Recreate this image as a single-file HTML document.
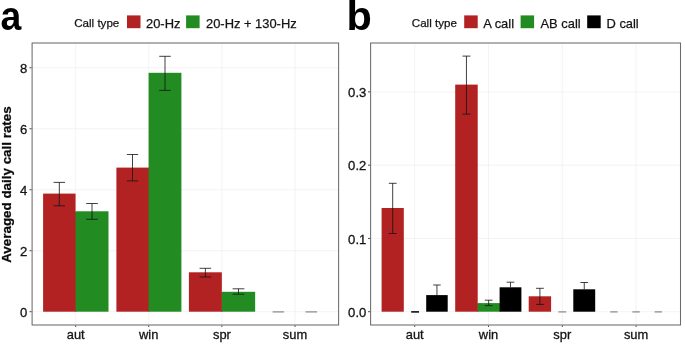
<!DOCTYPE html>
<html><head><meta charset="utf-8"><title>chart</title>
<style>
html,body{margin:0;padding:0;background:#fff;}
svg{display:block;will-change:transform;}
text{font-family:"Liberation Sans",sans-serif;fill:#141414;}
.ax{font-size:13.1px;stroke:#141414;stroke-width:0.3px;}
.axx{font-size:12.9px;}
.lt{font-size:11.6px;stroke:#141414;stroke-width:0.25px;}
.ll{font-size:12.9px;stroke:#141414;stroke-width:0.25px;}
.yt{font-size:13.4px;font-weight:bold;fill:#0a0a0a;stroke:#0a0a0a;stroke-width:0.25px;}
.big{font-size:41.5px;font-weight:bold;fill:#000;}
</style></head><body>
<svg width="685" height="345" viewBox="0 0 685 345">
<rect width="685" height="345" fill="#fff"/>
<rect x="32.1" y="43" width="306.5" height="282.0" fill="#fff"/>
<line x1="32.1" x2="338.6" y1="311.70" y2="311.70" stroke="#f0f0f0" stroke-width="0.8"/>
<line x1="32.1" x2="338.6" y1="250.72" y2="250.72" stroke="#f0f0f0" stroke-width="0.8"/>
<line x1="32.1" x2="338.6" y1="189.74" y2="189.74" stroke="#f0f0f0" stroke-width="0.8"/>
<line x1="32.1" x2="338.6" y1="128.76" y2="128.76" stroke="#f0f0f0" stroke-width="0.8"/>
<line x1="32.1" x2="338.6" y1="67.78" y2="67.78" stroke="#f0f0f0" stroke-width="0.8"/>
<line x1="75.70" x2="75.70" y1="43" y2="325.0" stroke="#f0f0f0" stroke-width="0.8"/>
<line x1="148.70" x2="148.70" y1="43" y2="325.0" stroke="#f0f0f0" stroke-width="0.8"/>
<line x1="221.90" x2="221.90" y1="43" y2="325.0" stroke="#f0f0f0" stroke-width="0.8"/>
<line x1="295.00" x2="295.00" y1="43" y2="325.0" stroke="#f0f0f0" stroke-width="0.8"/>
<rect x="43.10" y="193.60" width="32.45" height="118.10" fill="#B22222"/>
<rect x="75.05" y="211.80" width="1.30" height="99.90" fill="#B22222"/>
<rect x="75.55" y="211.30" width="32.95" height="100.40" fill="#228B22"/>
<rect x="116.40" y="167.60" width="33.00" height="144.10" fill="#B22222"/>
<rect x="148.60" y="72.80" width="32.80" height="238.90" fill="#228B22"/>
<rect x="188.90" y="272.30" width="32.95" height="39.40" fill="#B22222"/>
<rect x="221.35" y="292.30" width="1.30" height="19.40" fill="#B22222"/>
<rect x="221.85" y="291.80" width="33.30" height="19.90" fill="#228B22"/>
<path d="M53.61 182.40H65.04M53.61 205.80H65.04M59.33 182.40V205.80" stroke="#161616" stroke-width="0.82" fill="none"/>
<path d="M86.23 203.50H97.82M86.23 219.30H97.82M92.03 203.50V219.30" stroke="#161616" stroke-width="0.82" fill="none"/>
<path d="M126.83 154.50H138.17M126.83 180.90H138.17M132.50 154.50V180.90" stroke="#161616" stroke-width="0.82" fill="none"/>
<path d="M159.23 56.30H170.77M159.23 90.40H170.77M165.00 56.30V90.40" stroke="#161616" stroke-width="0.82" fill="none"/>
<path d="M199.58 268.30H211.17M199.58 277.00H211.17M205.38 268.30V277.00" stroke="#161616" stroke-width="0.82" fill="none"/>
<path d="M232.64 288.80H244.36M232.64 294.20H244.36M238.50 288.80V294.20" stroke="#161616" stroke-width="0.82" fill="none"/>
<line x1="272.60" x2="284.10" y1="311.90" y2="311.90" stroke="#828282" stroke-width="1.15"/>
<line x1="305.50" x2="317.10" y1="311.90" y2="311.90" stroke="#828282" stroke-width="1.15"/>
<rect x="32.1" y="43" width="306.5" height="282.0" fill="none" stroke="#6c6c6c" stroke-width="1.05"/>
<line x1="29.50" x2="31.60" y1="311.70" y2="311.70" stroke="#383838" stroke-width="0.9"/>
<line x1="29.50" x2="31.60" y1="250.72" y2="250.72" stroke="#383838" stroke-width="0.9"/>
<line x1="29.50" x2="31.60" y1="189.74" y2="189.74" stroke="#383838" stroke-width="0.9"/>
<line x1="29.50" x2="31.60" y1="128.76" y2="128.76" stroke="#383838" stroke-width="0.9"/>
<line x1="29.50" x2="31.60" y1="67.78" y2="67.78" stroke="#383838" stroke-width="0.9"/>
<line x1="75.70" x2="75.70" y1="325.5" y2="327.0" stroke="#383838" stroke-width="0.9"/>
<line x1="148.70" x2="148.70" y1="325.5" y2="327.0" stroke="#383838" stroke-width="0.9"/>
<line x1="221.90" x2="221.90" y1="325.5" y2="327.0" stroke="#383838" stroke-width="0.9"/>
<line x1="295.00" x2="295.00" y1="325.5" y2="327.0" stroke="#383838" stroke-width="0.9"/>
<text x="27.3" y="317.00" text-anchor="end" class="ax">0</text>
<text x="27.3" y="256.02" text-anchor="end" class="ax">2</text>
<text x="27.3" y="195.04" text-anchor="end" class="ax">4</text>
<text x="27.3" y="134.06" text-anchor="end" class="ax">6</text>
<text x="27.3" y="73.08" text-anchor="end" class="ax">8</text>
<text x="75.70" y="338.7" text-anchor="middle" class="ax axx">aut</text>
<text x="148.70" y="338.7" text-anchor="middle" class="ax axx">win</text>
<text x="221.90" y="338.7" text-anchor="middle" class="ax axx">spr</text>
<text x="295.00" y="338.7" text-anchor="middle" class="ax axx">sum</text>
<rect x="370.6" y="43" width="309.9" height="282.0" fill="#fff"/>
<line x1="370.6" x2="680.5" y1="311.70" y2="311.70" stroke="#f0f0f0" stroke-width="0.8"/>
<line x1="370.6" x2="680.5" y1="238.43" y2="238.43" stroke="#f0f0f0" stroke-width="0.8"/>
<line x1="370.6" x2="680.5" y1="165.16" y2="165.16" stroke="#f0f0f0" stroke-width="0.8"/>
<line x1="370.6" x2="680.5" y1="91.89" y2="91.89" stroke="#f0f0f0" stroke-width="0.8"/>
<line x1="414.70" x2="414.70" y1="43" y2="325.0" stroke="#f0f0f0" stroke-width="0.8"/>
<line x1="488.50" x2="488.50" y1="43" y2="325.0" stroke="#f0f0f0" stroke-width="0.8"/>
<line x1="562.30" x2="562.30" y1="43" y2="325.0" stroke="#f0f0f0" stroke-width="0.8"/>
<line x1="636.10" x2="636.10" y1="43" y2="325.0" stroke="#f0f0f0" stroke-width="0.8"/>
<rect x="381.60" y="208.00" width="22.20" height="103.70" fill="#B22222"/>
<rect x="426.20" y="295.10" width="21.50" height="16.60" fill="#000000"/>
<rect x="455.20" y="84.60" width="22.50" height="227.10" fill="#B22222"/>
<rect x="477.20" y="303.60" width="1.30" height="8.10" fill="#B22222"/>
<rect x="477.70" y="303.10" width="22.70" height="8.60" fill="#228B22"/>
<rect x="499.60" y="287.30" width="21.80" height="24.40" fill="#000000"/>
<rect x="528.70" y="296.30" width="22.40" height="15.40" fill="#B22222"/>
<rect x="573.30" y="289.30" width="21.90" height="22.40" fill="#000000"/>
<path d="M388.79 183.30H396.61M388.79 233.50H396.61M392.70 183.30V233.50" stroke="#161616" stroke-width="0.82" fill="none"/>
<path d="M433.17 285.00H440.73M436.95 285.00V295.10" stroke="#161616" stroke-width="0.82" fill="none"/>
<path d="M462.49 56.10H470.41M462.49 114.10H470.41M466.45 56.10V114.10" stroke="#161616" stroke-width="0.82" fill="none"/>
<path d="M484.80 300.20H492.50M484.80 305.60H492.50M488.65 300.20V305.60" stroke="#161616" stroke-width="0.82" fill="none"/>
<path d="M506.66 282.20H514.34M510.50 282.20V287.30" stroke="#161616" stroke-width="0.82" fill="none"/>
<path d="M535.96 288.30H543.84M535.96 304.40H543.84M539.90 288.30V304.40" stroke="#161616" stroke-width="0.82" fill="none"/>
<path d="M580.40 282.50H588.10M584.25 282.50V289.30" stroke="#161616" stroke-width="0.82" fill="none"/>
<line x1="411.20" x2="419.00" y1="311.90" y2="311.90" stroke="#000" stroke-width="1.5"/>
<line x1="558.40" x2="566.20" y1="311.90" y2="311.90" stroke="#828282" stroke-width="1.15"/>
<line x1="610.30" x2="617.60" y1="311.90" y2="311.90" stroke="#828282" stroke-width="1.15"/>
<line x1="632.40" x2="639.80" y1="311.90" y2="311.90" stroke="#828282" stroke-width="1.15"/>
<line x1="654.60" x2="662.00" y1="311.90" y2="311.90" stroke="#828282" stroke-width="1.15"/>
<rect x="370.6" y="43" width="309.9" height="282.0" fill="none" stroke="#6c6c6c" stroke-width="1.05"/>
<line x1="368.00" x2="370.10" y1="311.70" y2="311.70" stroke="#383838" stroke-width="0.9"/>
<line x1="368.00" x2="370.10" y1="238.43" y2="238.43" stroke="#383838" stroke-width="0.9"/>
<line x1="368.00" x2="370.10" y1="165.16" y2="165.16" stroke="#383838" stroke-width="0.9"/>
<line x1="368.00" x2="370.10" y1="91.89" y2="91.89" stroke="#383838" stroke-width="0.9"/>
<line x1="414.70" x2="414.70" y1="325.5" y2="327.0" stroke="#383838" stroke-width="0.9"/>
<line x1="488.50" x2="488.50" y1="325.5" y2="327.0" stroke="#383838" stroke-width="0.9"/>
<line x1="562.30" x2="562.30" y1="325.5" y2="327.0" stroke="#383838" stroke-width="0.9"/>
<line x1="636.10" x2="636.10" y1="325.5" y2="327.0" stroke="#383838" stroke-width="0.9"/>
<text x="366.3" y="317.00" text-anchor="end" class="ax">0.0</text>
<text x="366.3" y="243.73" text-anchor="end" class="ax">0.1</text>
<text x="366.3" y="170.46" text-anchor="end" class="ax">0.2</text>
<text x="366.3" y="97.19" text-anchor="end" class="ax">0.3</text>
<text x="414.70" y="338.7" text-anchor="middle" class="ax axx">aut</text>
<text x="488.50" y="338.7" text-anchor="middle" class="ax axx">win</text>
<text x="562.30" y="338.7" text-anchor="middle" class="ax axx">spr</text>
<text x="636.10" y="338.7" text-anchor="middle" class="ax axx">sum</text>
<text transform="translate(0.5,30.1) scale(0.9,1)" class="big">a</text>
<text x="346.4" y="30.1" class="big">b</text>
<text transform="translate(11,184.55) rotate(-90)" text-anchor="middle" class="yt">Averaged daily call rates</text>
<text x="74.2" y="26.9" class="lt">Call type</text>
<rect x="127" y="15.4" width="13.5" height="12.8" fill="#B22222"/>
<text x="146.0" y="27.7" class="ll">20-Hz</text>
<rect x="186.1" y="15.4" width="13.5" height="12.8" fill="#228B22"/>
<text x="206.0" y="27.7" class="ll">20-Hz + 130-Hz</text>
<text x="411.8" y="26.9" class="lt">Call type</text>
<rect x="464.2" y="15.4" width="13.5" height="12.8" fill="#B22222"/>
<text x="483.2" y="27.7" class="ll">A call</text>
<rect x="520.6" y="15.4" width="13.5" height="12.8" fill="#228B22"/>
<text x="540.5" y="27.7" class="ll">AB call</text>
<rect x="587.2" y="15.4" width="13.5" height="12.8" fill="#000000"/>
<text x="606.5" y="27.7" class="ll">D call</text>
</svg>
</body></html>
